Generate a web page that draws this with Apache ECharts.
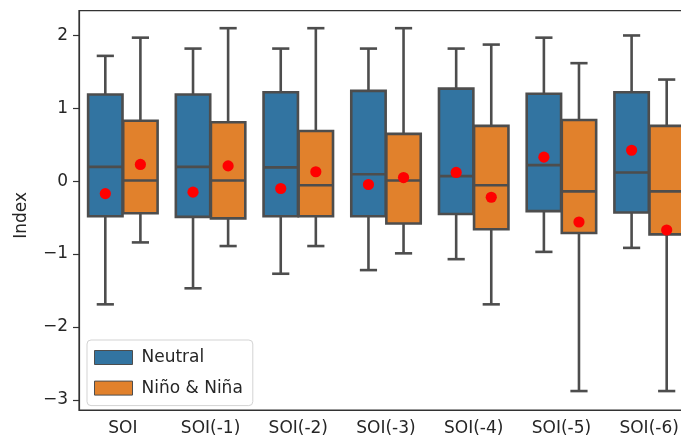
<!DOCTYPE html>
<html>
<head>
<meta charset="utf-8">
<script src="https://cdn.jsdelivr.net/npm/echarts@6/dist/echarts.min.js"></script>
<style>html,body{margin:0;padding:0;background:#fff;}#chart{width:681px;height:442px;}</style>
</head>
<body>
<div id="chart"></div>
<script>
const categories = ['SOI', 'SOI(-1)', 'SOI(-2)', 'SOI(-3)', 'SOI(-4)', 'SOI(-5)', 'SOI(-6)'];
const yTicks = [-3, -2, -1, 0, 1, 2];

const neutralLow    = [-1.69, -1.47, -1.27, -1.22, -1.07, -0.97, -0.915];
const neutralQ1     = [-0.48, -0.49, -0.48, -0.48, -0.45, -0.41, -0.43];
const neutralMedian = [0.196, 0.196, 0.19, 0.096, 0.07, 0.22, 0.12];
const neutralQ3     = [1.19, 1.19, 1.22, 1.24, 1.27, 1.20, 1.22];
const neutralHigh   = [1.72, 1.82, 1.82, 1.82, 1.82, 1.97, 2.00];
const neutralMean   = [-0.17, -0.15, -0.10, -0.045, 0.12, 0.33, 0.425];

const ninoLow    = [-0.84, -0.89, -0.89, -0.99, -1.69, -2.88, -2.88];
const ninoQ1     = [-0.44, -0.51, -0.48, -0.58, -0.66, -0.71, -0.73];
const ninoMedian = [0.01, 0.01, -0.055, 0.01, -0.055, -0.14, -0.14];
const ninoQ3     = [0.83, 0.81, 0.69, 0.65, 0.76, 0.84, 0.76];
const ninoHigh   = [1.97, 2.10, 2.10, 2.10, 1.875, 1.62, 1.395];
const ninoMean   = [0.23, 0.21, 0.13, 0.05, -0.22, -0.56, -0.67];

const BLUE = '#3274a1';
const ORANGE = '#e1812c';
const EDGE = '#4d4d4d';
const TEXT = '#262626';
const FONT = 'DejaVu Sans';

function rows(low, q1, med, q3, high, mean) {
  return categories.map((c, i) => [i, low[i], q1[i], med[i], q3[i], high[i], mean[i]]);
}

function makeRender(offsetFrac, fill) {
  return function (params, api) {
    const xi = api.value(0);
    const band = api.size([1, 0])[0];
    const cx = api.coord([xi, 0])[0] + offsetFrac * band;
    const bw = band * 0.392;
    const cw = bw / 2;
    const y = v => api.coord([xi, v])[1];
    const low = y(api.value(1)), q1 = y(api.value(2)), med = y(api.value(3)),
          q3 = y(api.value(4)), high = y(api.value(5)), mean = y(api.value(6));
    const ls = { stroke: EDGE, lineWidth: 2.6 };
    return {
      type: 'group',
      children: [
        { type: 'line', shape: { x1: cx, y1: q3, x2: cx, y2: high }, style: ls },
        { type: 'line', shape: { x1: cx, y1: q1, x2: cx, y2: low }, style: ls },
        { type: 'line', shape: { x1: cx - cw / 2, y1: high, x2: cx + cw / 2, y2: high }, style: ls },
        { type: 'line', shape: { x1: cx - cw / 2, y1: low, x2: cx + cw / 2, y2: low }, style: ls },
        { type: 'rect', shape: { x: cx - bw / 2, y: q3, width: bw, height: q1 - q3 },
          style: { fill: fill, stroke: EDGE, lineWidth: 2.6 } },
        { type: 'line', shape: { x1: cx - bw / 2, y1: med, x2: cx + bw / 2, y2: med }, style: ls },
        { type: 'circle', shape: { cx: cx, cy: mean, r: 5.6 }, style: { fill: '#ff0000' } }
      ]
    };
  };
}

const chart = echarts.init(document.getElementById('chart'));
chart.setOption({
  animation: false,
  backgroundColor: '#fff',
  textStyle: { fontFamily: FONT },
  grid: {
    left: 79, top: 10.7, width: 614, bottom: 32,
    outerBoundsMode: 'none', containLabel: false,
    show: true, borderColor: '#333', borderWidth: 1.2, backgroundColor: 'transparent'
  },
  legend: {
    orient: 'vertical', left: 87, top: 340,
    padding: [9, 10, 9, 7],
    itemWidth: 38, itemHeight: 14, itemGap: 13.6,
    borderColor: '#d3d3d3', borderWidth: 1, borderRadius: 4,
    backgroundColor: 'rgba(255,255,255,0.8)',
    textStyle: { fontFamily: FONT, fontSize: 17, color: TEXT, padding: [0, 0, 0, 4] },
    data: [
      { name: 'Neutral', icon: 'rect', itemStyle: { color: BLUE, borderColor: EDGE, borderWidth: 1 } },
      { name: 'Niño & Niña', icon: 'rect', itemStyle: { color: ORANGE, borderColor: EDGE, borderWidth: 1 } }
    ]
  },
  xAxis: {
    type: 'category', data: categories, boundaryGap: true,
    axisLine: { onZero: false, lineStyle: { color: '#333', width: 1.2 } },
    axisTick: { alignWithLabel: true, length: 6, lineStyle: { color: '#333', width: 1.2 } },
    axisLabel: { fontFamily: FONT, fontSize: 17, color: TEXT, margin: 10, interval: 0 },
    splitLine: { show: false }
  },
  yAxis: {
    type: 'value', min: -3.14, max: 2.34,
    name: 'Index', nameLocation: 'middle', nameGap: 49, nameRotate: 90,
    nameTextStyle: { fontFamily: FONT, fontSize: 17, color: TEXT, padding: [0, 10, 0, 0] },
    axisLine: { show: true, lineStyle: { color: '#333', width: 1.2 } },
    axisTick: { show: true, length: 6, customValues: yTicks, lineStyle: { color: '#333', width: 1.2 } },
    axisLabel: { fontFamily: FONT, fontSize: 17, color: TEXT, margin: 11, customValues: yTicks,
      formatter: v => String(v).replace('-', '\u2212') },
    splitLine: { show: false }
  },
  series: [
    {
      name: 'Neutral', type: 'custom', itemStyle: { color: BLUE },
      renderItem: makeRender(-0.2, BLUE),
      encode: { x: 0, y: [1, 2, 3, 4, 5, 6] },
      data: rows(neutralLow, neutralQ1, neutralMedian, neutralQ3, neutralHigh, neutralMean)
    },
    {
      name: 'Niño & Niña', type: 'custom', itemStyle: { color: ORANGE },
      renderItem: makeRender(0.2, ORANGE),
      encode: { x: 0, y: [1, 2, 3, 4, 5, 6] },
      data: rows(ninoLow, ninoQ1, ninoMedian, ninoQ3, ninoHigh, ninoMean)
    }
  ]
});
</script>
</body>
</html>
